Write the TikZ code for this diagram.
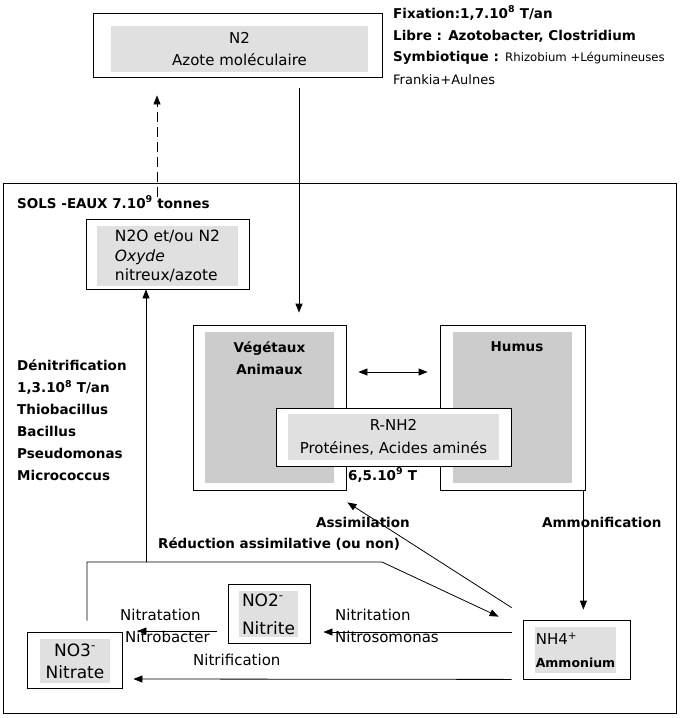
\documentclass[tikz,border=0pt]{standalone}
\usepackage{fontspec}
\setmainfont{DejaVu Sans}
\usetikzlibrary{calc,arrows.meta}
\definecolor{lightgr}{gray}{0.88}
\definecolor{midgr}{gray}{0.8}
\tikzset{
  box/.style={draw, line width=0.8pt, fill=white, inner sep=0pt},
  lgray/.style={fill=lightgr, inner sep=0pt},
  mgray/.style={fill=midgr, inner sep=0pt},
  txt/.style={font=\fontsize{15}{22}\selectfont, inner sep=0pt},
  btxt/.style={font=\fontsize{13.5}{22}\selectfont\bfseries, inner sep=0pt},
  arr/.style={line width=0.8pt, -{Triangle[length=9pt,width=7pt]}},
  dasharr/.style={arr, dash pattern=on 10pt off 5pt},
  dblarr/.style={line width=0.8pt, {Triangle[length=9pt,width=7pt]}-{Triangle[length=9pt,width=7pt]}}
}

\begin{document}
\begin{tikzpicture}[x=1pt,y=-1pt]
		%%%%% START %%%%%
		\useasboundingbox (0,0) rectangle (684,718);
		
		\node[draw, line width=1pt, inner sep=0pt, minimum width=673pt, minimum height=530pt] (sols) at (339.5,448) {};
		\node[btxt, anchor=base west] (solstit) at (17,208) {SOLS -EAUX 7.10\textsuperscript{9} tonnes};
		
		% azote atmospherique
		\node[box, minimum width=289pt, minimum height=64pt] (n2) at (237.5,45) {};
		\node[lgray, txt, align=center, minimum width=257pt, minimum height=46pt] (n2in) at (239.5,49) {N2\\Azote moléculaire};
		
		\node[btxt, anchor=base west] (fix) at (393,18) {Fixation:1,7.10\textsuperscript{8} T/an};
		\node[btxt, anchor=base west] (libre) at (393,40) {Libre : Azotobacter, Clostridium};
		\node[btxt, anchor=base west] (symb) at (393,61) {Symbiotique : {\fontsize{11.7}{14}\selectfont\mdseries Rhizobium +Légumineuses}};
		\node[txt, font=\fontsize{13}{16}\selectfont, anchor=base west] (frankia) at (393,84) {Frankia+Aulnes};
		
		\node[box, minimum width=163pt, minimum height=70pt] (n2o) at (167.5,254) {};
		\node[lgray, txt, align=left, font=\fontsize{15.5}{19.5}\selectfont, minimum width=141pt, minimum height=60pt] (n2oin) at (167.5,256) {N2O et/ou N2\\\textit{Oxyde}\\nitreux/azote};
		
		% matiere organique
		\node[box, minimum width=153pt, minimum height=165pt] (vege) at (269.5,407.5) {};
		\node[mgray, minimum width=129pt, minimum height=151pt] (vegein) at (269.5,407.5) {};
		\node[btxt, align=center, anchor=north] (vegetxt) at (269.5,341) {Végétaux\\Animaux};
		
		\node[box, minimum width=145pt, minimum height=165pt] (humus) at (512.5,407.5) {};
		\node[mgray, minimum width=119pt, minimum height=151pt] (humusin) at (512.5,407.5) {};
		\node[btxt, anchor=base] (humustxt) at (517,351) {Humus};
		
		\node[box, minimum width=235pt, minimum height=58pt] (rnh) at (393.5,437) {};
		\node[lgray, txt, align=center, font=\fontsize{15}{23}\selectfont, minimum width=211pt, minimum height=46pt] (rnhin) at (393.5,437) {R-NH2\\Protéines, Acides aminés};
		\node[btxt, anchor=base west] (stock) at (348,480) {6,5.10\textsuperscript{9} T};
		
		\node[btxt, align=left, anchor=north west] (denit) at (17,359.5) {Dénitrification\\1,3.10\textsuperscript{8} T/an\\Thiobacillus\\Bacillus\\Pseudomonas\\Micrococcus};
		
		% formes minerales
		\node[box, minimum width=107pt, minimum height=59pt] (nh4) at (576.5,649.5) {};
		\node[lgray, align=left, font=\fontsize{15}{23}\selectfont, minimum width=81pt, minimum height=46pt] (nh4in) at (575.5,650) {NH4\textsuperscript{+}\\{\fontsize{12.5}{23}\selectfont\bfseries Ammonium}};
		
		\node[box, minimum width=82pt, minimum height=59pt] (no2) at (269,613.5) {};
		\node[lgray, txt, align=left, font=\fontsize{17}{22}\selectfont, minimum width=59pt, minimum height=46pt] (no2in) at (268.5,614) {NO2\textsuperscript{-}\\[6pt]Nitrite};
		
		\node[box, minimum width=95pt, minimum height=56pt] (no3) at (74.5,660) {};
		\node[lgray, txt, align=center, font=\fontsize{17}{22}\selectfont, minimum width=70pt, minimum height=44pt] (no3in) at (75,661) {NO3\textsuperscript{-}\\Nitrate};
		
		% fleches
		\coordinate (redA) at (87,562);
		\coordinate (redB) at (382,562);
		\coordinate (denitA) at (146,562);
		
		\draw[dasharr] ($(n2o.north)+(-10.5,-22)$) -- ($(n2.south)+(-80.5,18)$);
		\draw[arr] ($(n2.south)+(61.5,11)$) -- ($(vege.north)+(29.5,-12)$);
		\draw[dblarr] ($(vege.east)+(12,-35.5)$) -- ($(humus.west)+(-12,-35.5)$);
		\draw[arr] ($(humus.south east)+(-2,0)$) -- ($(humus.south east |- nh4.north)+(-2,-10)$);
		\draw[arr] ($(nh4.north west)+(-11,-12)$) -- ($(vege.south east)+(1,12)$);
		\draw[arr] ($(no3.north)+(12.5,-11)$) -- (redA) -- (redB) -- ($(nh4.north west)+(-24,-3)$);
		\draw[arr] (denitA) -- (denitA |- n2o.south);
		\draw[arr] ($(nh4.west)+(-11,-17.5)$) -- ($(no2.east)+(13,18.5)$);
		\draw[arr] ($(no2.west)+(-11,17.5)$) -- ($(no3.east)+(15,-29)$);
		\draw[arr] ($(nh4.south west)+(-11,0)$) -- ($(no3.east)+(11,19)$);
		
		% etiquettes
		\node[btxt, anchor=base west] (assim) at (316,527) {Assimilation};
		\node[btxt, anchor=base west] (ammon) at (542,527) {Ammonification};
		\node[btxt, anchor=base west] (reduc) at (158,548) {Réduction assimilative (ou non)};
		\node[txt, anchor=base west] (nitri) at (335,620) {Nitritation};
		\node[txt, anchor=base west] (nitros) at (335,642) {Nitrosomonas};
		\node[txt, anchor=base west] (nitra) at (120,620) {Nitratation};
		\node[txt, anchor=base west] (nitrob) at (125,642) {Nitrobacter};
		\node[txt, anchor=base west] (nitrif) at (193,665) {Nitrification};
		
		%%%%% END %%%%%
\end{tikzpicture}
\end{document}
